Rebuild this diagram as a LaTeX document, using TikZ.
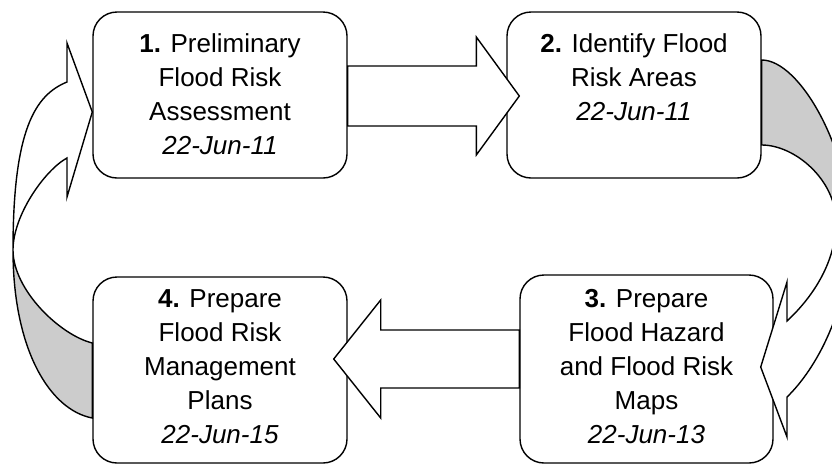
\documentclass[tikz,border=0pt]{standalone}
\usepackage{fontspec}
\setmainfont{Liberation Sans}
\usetikzlibrary{calc,positioning}
\definecolor{bandgrey}{RGB}{204,204,204}
\tikzset{
  box/.style={draw, rounded corners=24pt, line width=1.4pt, fill=white, inner sep=0pt},
  boxtext/.style={align=center, inner sep=0pt, font=\fontsize{26}{34}\selectfont},
  blockarrow/.style={draw, fill=white, line width=1.4pt},
  bandback/.style={draw, fill=bandgrey, line width=1.4pt},
}

\begin{document}
\begin{tikzpicture}[x=1pt,y=-1pt]
\useasboundingbox (0,0) rectangle (832,464);

% the four steps
\node[box, minimum width=254pt, minimum height=166pt] (b1) at (220,95) {};
\node[box, minimum width=254pt, minimum height=166pt] (b2) at (634,95) {};
\node[box, minimum width=253pt, minimum height=188pt] (b3) at (646.5,369) {};
\node[box, minimum width=254pt, minimum height=186pt] (b4) at (220,370) {};

% straight arrow 1 -> 2
\coordinate (tip12) at ($(b2.west)+(13,1)$);
\draw[blockarrow] (tip12) -- ++(-43,-59) -- ++(0,29)
  -- ($(b1.east |- tip12)+(0,-30)$) -- ++(0,60)
  -- ($(tip12)+(-43,30)$) -- ++(0,29) -- cycle;

% straight arrow 3 -> 4
\coordinate (tip34) at ($(b4.east)+(-14,-11)$);
\draw[blockarrow] (tip34) -- ++(47,-59) -- ++(0,30)
  -- ($(b3.west |- tip34)+(0,-29)$) -- ++(0,58)
  -- ($(tip34)+(47,29)$) -- ++(0,30) -- cycle;

% curved arrow 4 -> 1
\coordinate (l-out) at ($(b4.west)+(0,48)$);
\coordinate (l-in) at ($(b4.west)+(0,-27)$);
\coordinate (l-twist) at (13,250);
\coordinate (l-tip) at ($(b1.west)+(0,17)$);
\draw[bandback] (l-out) .. controls (50,410) and (13,350) .. (l-twist)
  .. controls (13,290) and (60,335) .. (l-in) -- cycle;
\draw[blockarrow] (l-twist) .. controls (13,130) and (35,95) .. (67,82)
  -- (67,43) -- (l-tip) -- (67,197) -- (67,158)
  .. controls (45,170) and (13,215) .. (l-twist) -- cycle;

% curved arrow 2 -> 3
\coordinate (r-out) at ($(b2.east)+(0,-35)$);
\coordinate (r-in) at ($(b2.east)+(0,50)$);
\coordinate (r-outapex) at (850,230);
\coordinate (r-inapex) at (836,222);
\coordinate (r-tip) at ($(b3.east)+(-13,-2)$);
\draw[bandback] (r-out) .. controls (800,60) and (850,150) .. (r-outapex)
  -- (r-inapex) .. controls (836,180) and (795,145) .. (r-in) -- cycle;
\draw[blockarrow] (r-inapex) .. controls (836,260) and (815,295) .. (787,321)
  -- (787,282) -- (r-tip) -- (787,437) -- (787,397)
  .. controls (815,370) and (850,310) .. (r-outapex) -- cycle;

% texts
\node[boxtext, below=22pt of b1.north] (t1)
  {\textbf{1.} Preliminary\\Flood Risk\\Assessment\\\textit{22-Jun-11}};
\node[boxtext, below=22pt of b2.north] (t2)
  {\textbf{2.} Identify Flood\\Risk Areas\\\textit{22-Jun-11}};
\node[boxtext, below=15pt of b3.north] (t3)
  {\textbf{3.} Prepare\\Flood Hazard\\and Flood Risk\\Maps\\\textit{22-Jun-13}};
\node[boxtext, below=13pt of b4.north] (t4)
  {\textbf{4.} Prepare\\Flood Risk\\Management\\Plans\\\textit{22-Jun-15}};

\end{tikzpicture}
\end{document}
